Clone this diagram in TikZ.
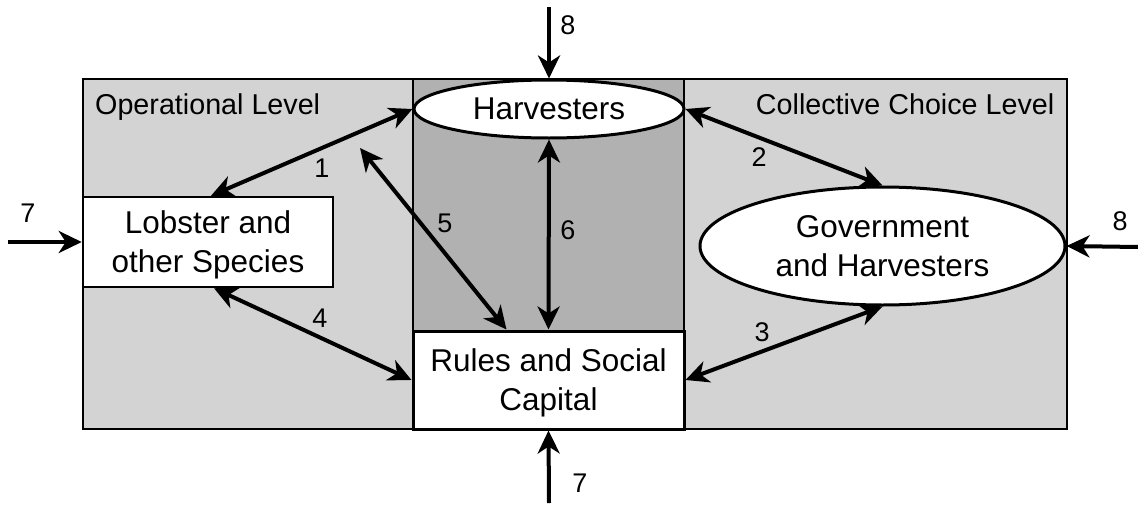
\documentclass[tikz,border=0pt]{standalone}
\usepackage{fontspec}
\setmainfont{Liberation Sans}
\usetikzlibrary{arrows.meta,shapes.geometric}
\definecolor{opgray}{HTML}{D3D3D3}
\definecolor{midgray}{HTML}{B1B1B1}
\begin{document}
\begin{tikzpicture}[x=1pt, y=-1pt, >={Stealth[length=23pt,width=22pt,inset=7pt]},
  every node/.style={inner sep=0pt},
  box/.style={draw, fill=white, line width=2.5pt, align=center, text depth=0pt, font=\fontsize{31.5}{39}\selectfont},
  oval/.style={ellipse, draw, fill=white, line width=3pt, align=center, text depth=0pt, font=\fontsize{31.5}{39}\selectfont},
  link/.style={<->, line width=4pt},
  feed/.style={->, line width=4pt},
  num/.style={font=\fontsize{27}{32}\selectfont},
  lvl/.style={font=\fontsize{28.7}{34}\selectfont}]
\useasboundingbox (0,0) rectangle (1138,506);

% 1. background panels
\draw[fill=opgray, line width=2pt] (83,79) rectangle (1067,429);
\draw[fill=midgray, line width=2pt] (413,79) rectangle (684,429);
\node[lvl, anchor=base west] (oplvl) at (95,114) {Operational Level};
\node[lvl, anchor=base east] (cclvl) at (1054.5,114.5) {Collective Choice Level};

% 2. boxes and ovals
\node[box, minimum width=271pt, minimum height=98pt, line width=3pt] (rules) at (548.5,380) {Rules and Social\\Capital};
\node[box, minimum width=250pt, minimum height=90pt] (lobster) at (208,242) {Lobster and\\other Species};
\node[oval, minimum width=270pt, minimum height=58pt] (harv) at (549,109) {Harvesters};
\node[oval, minimum width=365pt, minimum height=118pt] (gov) at (882.5,246) {Government\\and Harvesters};

% 3. two-way links 1--6
\draw[link] (harv.west) -- ([xshift=3pt]lobster.north);
\draw[link] (harv.east) -- (gov.north);
\draw[link] (rules.east) -- (gov.south);
\draw[link] ([xshift=6pt]lobster.south) -- (rules.west);
\coordinate (free5) at (360,148);
\draw[link] (free5) -- ([xshift=-42pt]rules.north);
\draw[link] (harv.south) -- (rules.north);
\node[num] (n1) at (322,168) {1};
\node[num] (n2) at (759,157) {2};
\node[num] (n3) at (762,332) {3};
\node[num] (n4) at (320,318) {4};
\node[num] (n5) at (445,223) {5};
\node[num] (n6) at (568,230) {6};

% 4. outside inputs 7 and 8
\coordinate (in7w) at (8,242);
\coordinate (in7s) at (549,503);
\coordinate (in8n) at (549,7);
\coordinate (in8e) at (1138,247);
\draw[feed] (in7w) -- (lobster.west);
\draw[feed] (in7s) -- (rules.south);
\draw[feed] (in8n) -- (harv.north);
\draw[feed] (in8e) -- (gov.east);
\node[num] (n7w) at (28,213) {7};
\node[num] (n7s) at (580,483) {7};
\node[num] (n8n) at (568,25) {8};
\node[num] (n8e) at (1120,221) {8};
\end{tikzpicture}
\end{document}
